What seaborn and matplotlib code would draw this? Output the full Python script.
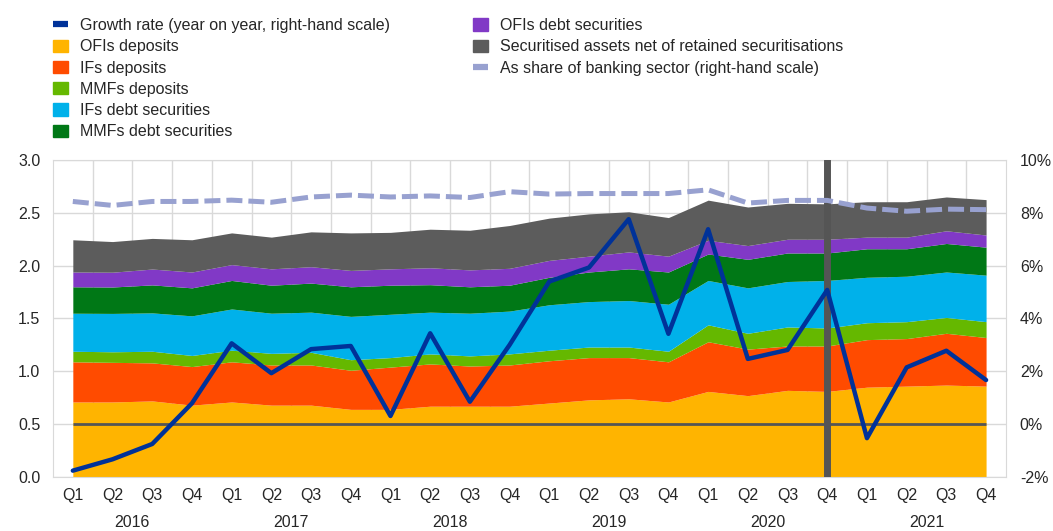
import numpy as np
import pandas as pd
import matplotlib.pyplot as plt
import matplotlib.transforms as mtransforms
import seaborn as sns
from matplotlib.patches import Patch
from matplotlib.lines import Line2D
from matplotlib.ticker import FormatStrFormatter

# quarterly data, Q1 2016 - Q4 2021 (EUR trillions, left scale; % right scale)
quarters = ["Q1", "Q2", "Q3", "Q4"] * 6
years = ["2016", "2017", "2018", "2019", "2020", "2021"]

ofis_deposits = [0.71, 0.71, 0.72, 0.68, 0.71, 0.68, 0.68, 0.64, 0.64, 0.67, 0.67, 0.67,
                 0.70, 0.73, 0.74, 0.71, 0.81, 0.77, 0.82, 0.81, 0.85, 0.86, 0.87, 0.86]
ifs_deposits = [0.38, 0.375, 0.36, 0.365, 0.38, 0.38, 0.38, 0.37, 0.40, 0.40, 0.38, 0.39,
                0.40, 0.40, 0.39, 0.38, 0.47, 0.44, 0.42, 0.43, 0.45, 0.45, 0.49, 0.46]
mmfs_deposits = [0.10, 0.10, 0.11, 0.105, 0.11, 0.11, 0.12, 0.10, 0.09, 0.095, 0.096, 0.105,
                 0.10, 0.10, 0.10, 0.10, 0.16, 0.15, 0.18, 0.17, 0.16, 0.16, 0.15, 0.15]
ifs_debt = [0.36, 0.363, 0.363, 0.375, 0.39, 0.38, 0.38, 0.41, 0.41, 0.395, 0.404, 0.405,
            0.43, 0.43, 0.44, 0.445, 0.42, 0.43, 0.43, 0.45, 0.43, 0.43, 0.43, 0.44]
mmfs_debt = [0.25, 0.25, 0.265, 0.265, 0.27, 0.265, 0.275, 0.28, 0.275, 0.26, 0.25, 0.245,
             0.26, 0.28, 0.30, 0.305, 0.25, 0.27, 0.27, 0.26, 0.27, 0.26, 0.27, 0.265]
ofis_debt = [0.14, 0.14, 0.15, 0.15, 0.15, 0.155, 0.155, 0.155, 0.155, 0.16, 0.16, 0.16,
             0.16, 0.15, 0.16, 0.15, 0.13, 0.13, 0.13, 0.13, 0.11, 0.11, 0.12, 0.115]
securitised = [0.305, 0.29, 0.29, 0.305, 0.30, 0.30, 0.33, 0.355, 0.345, 0.365, 0.375, 0.405,
               0.40, 0.40, 0.38, 0.365, 0.38, 0.365, 0.34, 0.335, 0.335, 0.335, 0.32, 0.335]

growth = [-1.76, -1.33, -0.75, 0.79, 3.06, 1.93, 2.84, 2.96, 0.31, 3.44, 0.85, 3.0,
          5.4, 5.93, 7.76, 3.42, 7.38, 2.47, 2.81, 5.08, -0.53, 2.15, 2.78, 1.67]
share = [8.43, 8.28, 8.43, 8.43, 8.48, 8.40, 8.60, 8.67, 8.60, 8.64, 8.58, 8.80,
         8.71, 8.73, 8.73, 8.73, 8.87, 8.37, 8.47, 8.47, 8.18, 8.06, 8.14, 8.12]

area_labels = ["OFIs deposits", "IFs deposits", "MMFs deposits", "IFs debt securities",
               "MMFs debt securities", "OFIs debt securities",
               "Securitised assets net of retained securitisations"]
area_colors = ["#ffb400", "#ff4b00", "#65b800", "#00b1ea", "#007816", "#8139c6", "#5c5c5c"]
growth_color = "#003299"
share_color = "#98a1d0"
grid_color = "#d9d9d9"

df = pd.DataFrame({"pos": np.arange(len(quarters)), "quarter": quarters,
                   "growth": growth, "share": share})

sns.set_style("white")
plt.rcParams['font.family'] = ['Liberation Sans', 'DejaVu Sans']
fs = 11.5

fig = plt.figure(figsize=(10.53, 5.31), dpi=100)
ax = fig.add_axes([0.0503, 0.1017, 0.905, 0.597])

x = df["pos"].values
ax.stackplot(x, ofis_deposits, ifs_deposits, mmfs_deposits, ifs_debt, mmfs_debt,
             ofis_debt, securitised, colors=area_colors, lw=0, zorder=2)

ax.set_xlim(-0.5, len(x) - 0.5)
ax.set_ylim(0, 3)
ax.set_yticks(np.arange(0, 3.01, 0.5))
ax.yaxis.set_major_formatter(FormatStrFormatter('%.1f'))
ax.yaxis.grid(True, color=grid_color, lw=1, zorder=0)
for k in np.arange(0.5, len(x) - 1, 1):
    ax.axvline(k, color=grid_color, lw=1, zorder=0)
ax.set_axisbelow(True)

ax.set_xticks(x, labels=quarters)
ax.set_xticks(np.arange(-0.5, len(x), 4), minor=True)
ax.tick_params(axis='x', which='major', length=0, pad=8, labelsize=fs)
ax.tick_params(axis='x', which='minor', length=40, color=grid_color, width=1)
ax.tick_params(axis='y', length=0, pad=9, labelsize=fs)

trans = mtransforms.blended_transform_factory(ax.transData, ax.transAxes)
for i, yr in enumerate(years):
    ax.text(1.5 + 4 * i, -0.145, yr, transform=trans, ha='center', va='center', fontsize=fs)

for s in ax.spines.values():
    s.set_color(grid_color)

ax2 = ax.twinx()
ax2.set_ylim(-2, 10)
ax2.set_yticks(np.arange(-2, 10.1, 2))
ax2.yaxis.set_major_formatter(FormatStrFormatter('%d%%'))
ax2.tick_params(axis='y', length=0, pad=10, labelsize=fs)
for s in ax2.spines.values():
    s.set_visible(False)

ax2.axvline(19, color="#555555", lw=5, zorder=1.5)
ax2.hlines(0, x[0], x[-1], color="#555555", lw=2, zorder=1.6)
sns.lineplot(data=df, x="pos", y="share", ax=ax2, color=share_color, lw=3.6, zorder=3)
ax2.lines[-1].set_dashes([3.2, 1.2])
sns.lineplot(data=df, x="pos", y="growth", ax=ax2, color=growth_color, lw=3.2, zorder=4)
ax2.set_xlabel("")
ax2.set_ylabel("")
ax.set_xlabel("")

growth_h = Line2D([], [], color=growth_color, lw=4.5, solid_capstyle='butt')
share_h = Line2D([], [], color=share_color, lw=4.5, solid_capstyle='butt')
patches = [Patch(color=c) for c in area_colors]

handles1 = [growth_h] + patches[:5]
labels1 = ["Growth rate (year on year, right-hand scale)"] + area_labels[:5]
handles2 = patches[5:] + [share_h]
labels2 = area_labels[5:] + ["As share of banking sector (right-hand scale)"]

leg_kw = dict(loc='upper left', frameon=False, fontsize=fs, handlelength=0.95,
              handleheight=0.8, handletextpad=0.75, labelspacing=0.39,
              borderpad=0, borderaxespad=0)
fig.legend(handles1, labels1, bbox_to_anchor=(0.0503, 0.966), **leg_kw)
fig.legend(handles2, labels2, bbox_to_anchor=(0.449, 0.966), **leg_kw)

fig.savefig("out.png", dpi=100)
